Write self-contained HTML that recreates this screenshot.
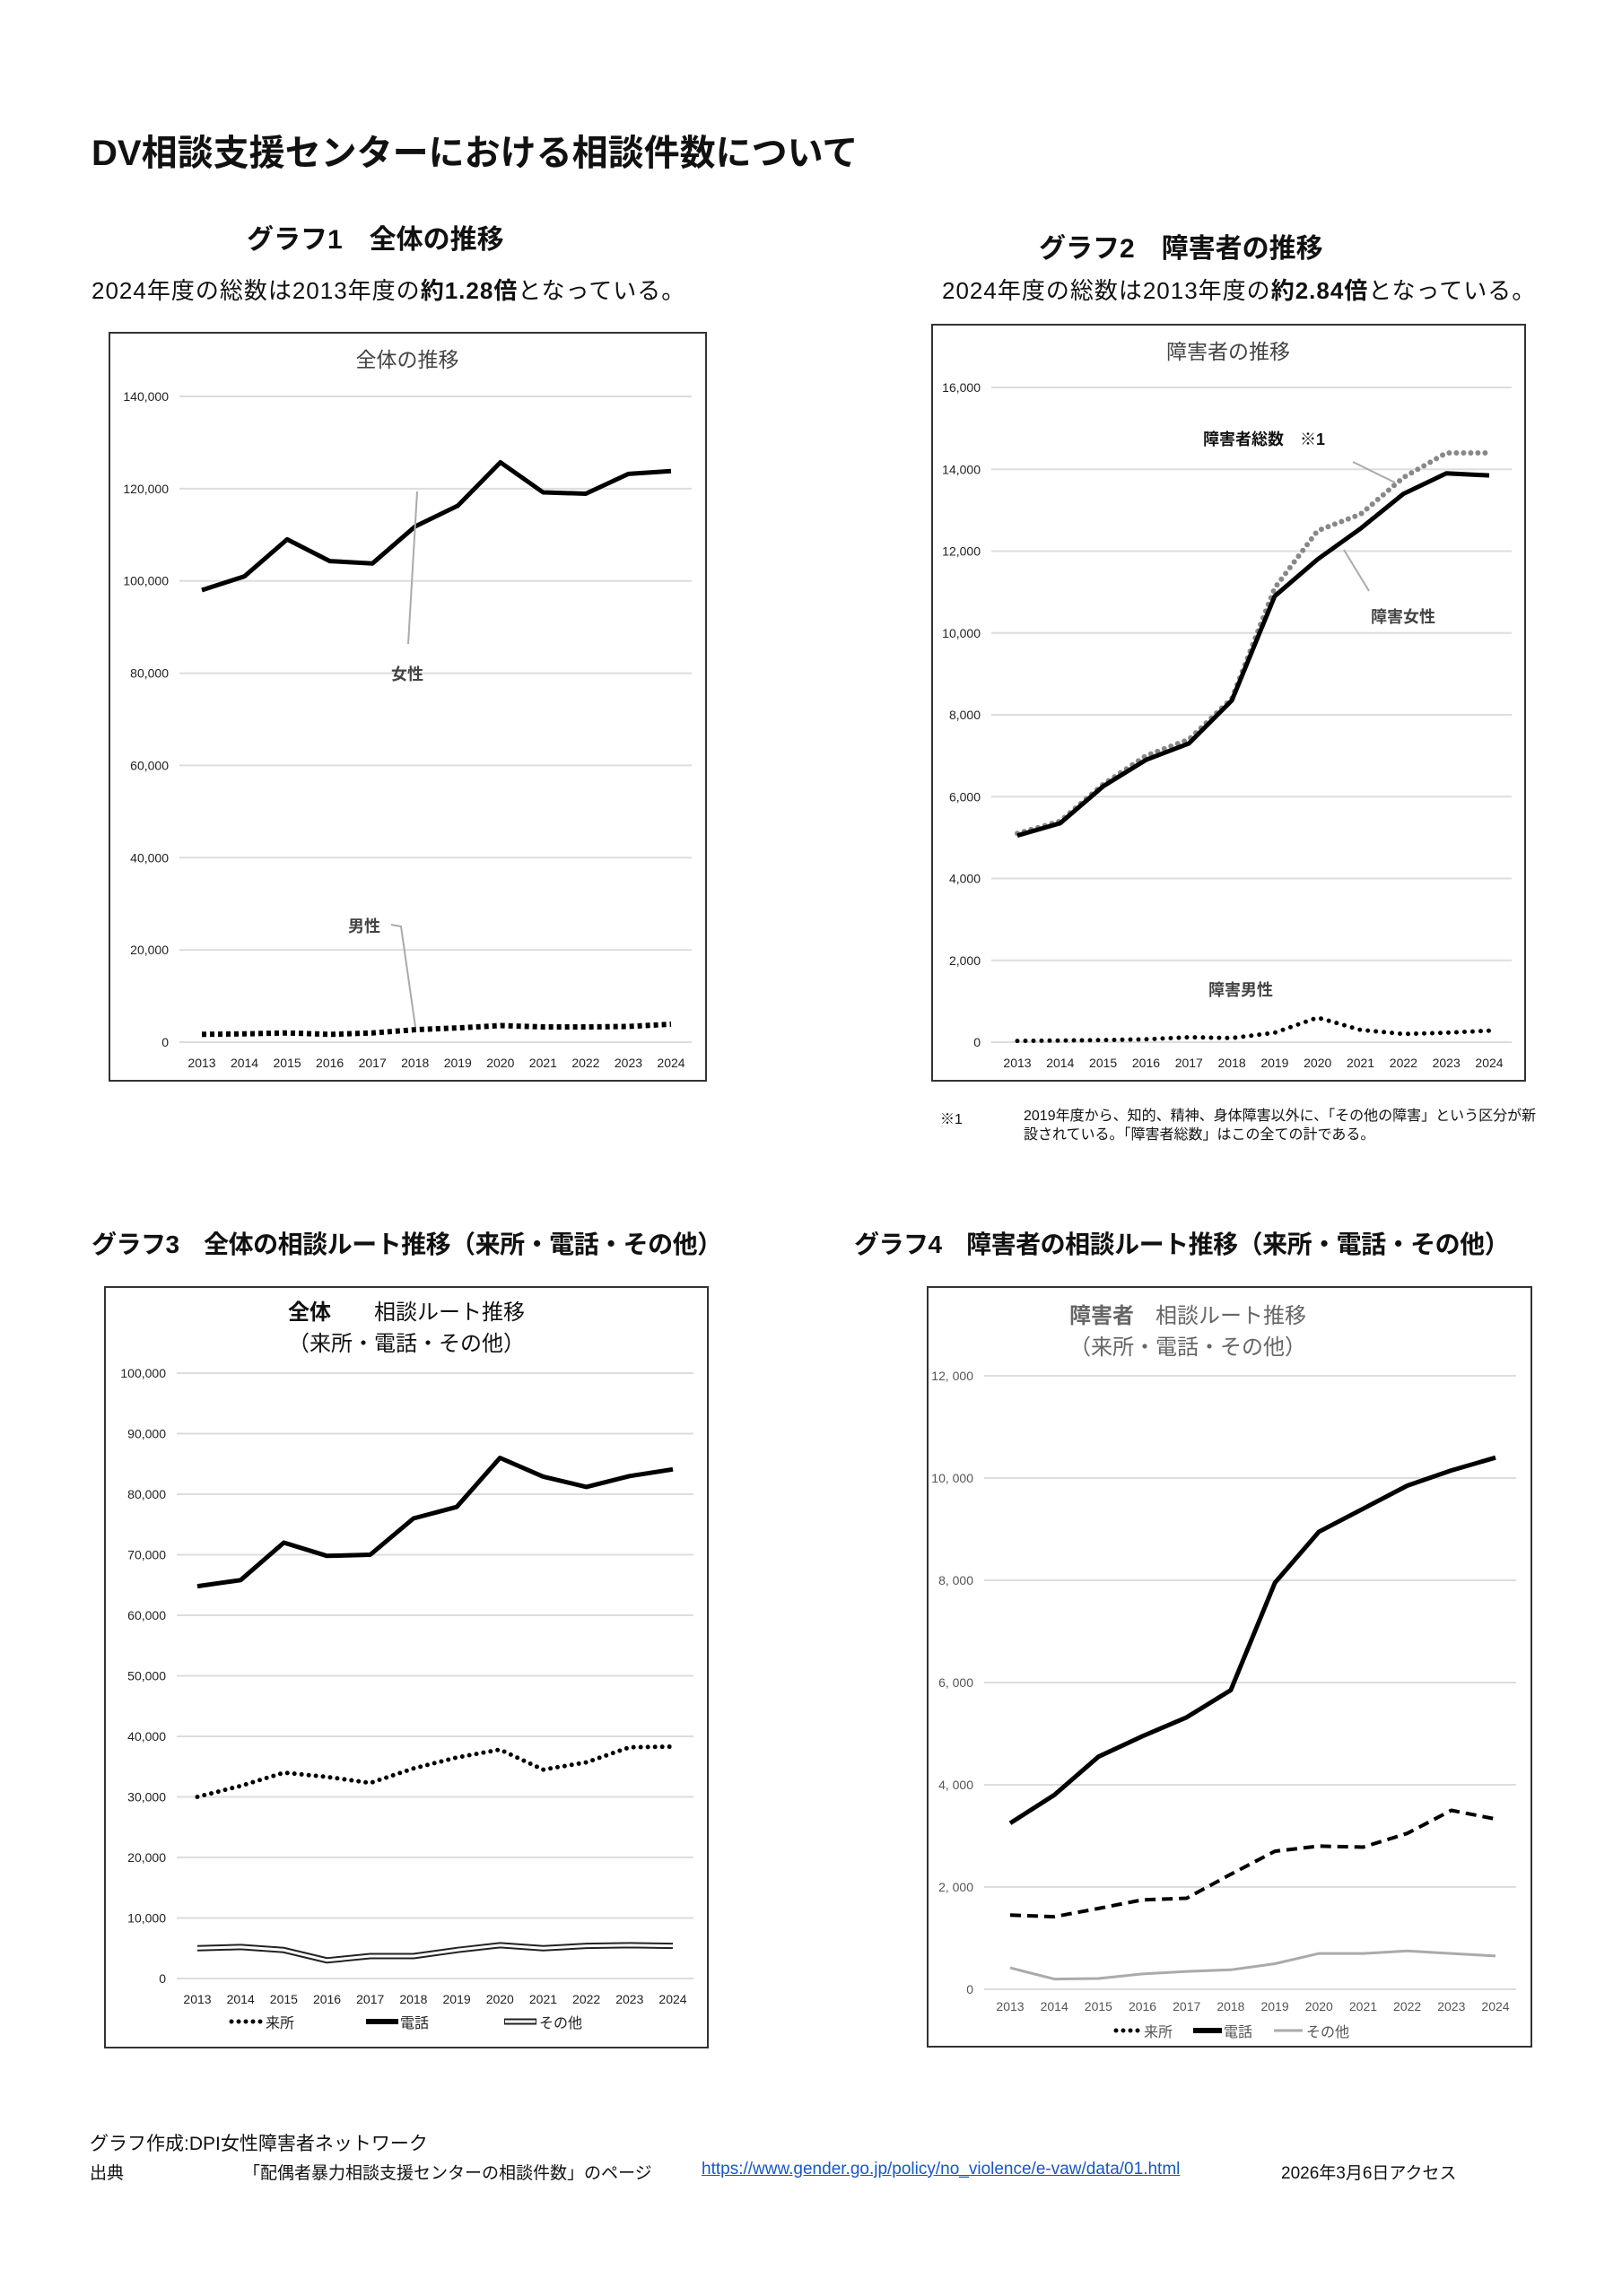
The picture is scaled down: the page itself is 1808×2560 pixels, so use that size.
<!DOCTYPE html>
<html><head><meta charset="utf-8">
<style>
html,body{margin:0;padding:0;background:#fff;}
body{width:1808px;height:2560px;position:relative;overflow:hidden;font-family:"Liberation Sans","Noto Sans CJK JP",sans-serif;}
.t{position:absolute;white-space:nowrap;color:#111;}
svg{position:absolute;left:0;top:0;}
svg text{font-family:"Liberation Sans","Noto Sans CJK JP",sans-serif;}
</style></head><body>
<div class="t" style="left:102px;top:138px;font-size:40px;font-weight:bold;">DV相談支援センターにおける相談件数について</div>
<div class="t" style="left:275px;top:242px;font-size:30px;font-weight:bold;">グラフ1　全体の推移</div>
<div class="t" style="left:102px;top:304px;font-size:26px;letter-spacing:1px;">2024年度の総数は2013年度の<b>約1.28倍</b>となっている。</div>
<div class="t" style="left:1158px;top:252px;font-size:30px;font-weight:bold;">グラフ2　障害者の推移</div>
<div class="t" style="left:1050px;top:304px;font-size:26px;letter-spacing:1px;">2024年度の総数は2013年度の<b>約2.84倍</b>となっている。</div>
<div class="t" style="left:1048px;top:1234px;font-size:16px;">※1</div>
<div class="t" style="left:1141px;top:1234px;font-size:16px;line-height:21px;">2019年度から、知的、精神、身体障害以外に、「その他の障害」という区分が新<br>設されている。「障害者総数」はこの全ての計である。</div>
<div class="t" style="left:102px;top:1366px;font-size:28px;font-weight:bold;letter-spacing:-0.5px;">グラフ3　全体の相談ルート推移（来所・電話・その他）</div>
<div class="t" style="left:952px;top:1366px;font-size:28px;font-weight:bold;letter-spacing:-0.5px;">グラフ4　障害者の相談ルート推移（来所・電話・その他）</div>
<div class="t" style="left:100px;top:2374px;font-size:21px;">グラフ作成:DPI女性障害者ネットワーク</div>
<div class="t" style="left:100px;top:2408px;font-size:19px;">出典</div>
<div class="t" style="left:271px;top:2408px;font-size:19px;">「配偶者暴力相談支援センターの相談件数」のページ</div>
<div class="t" style="left:782px;top:2408px;font-size:19px;color:#1a55c8;text-decoration:underline;">https://www.gender.go.jp/policy/no_violence/e-vaw/data/01.html</div>
<div class="t" style="left:1428px;top:2408px;font-size:19px;">2026年3月6日アクセス</div>
<svg id="s" width="1808" height="2560" xmlns="http://www.w3.org/2000/svg">
<rect x="122" y="371" width="665" height="834" fill="none" stroke="#333" stroke-width="2"/>
<rect x="1039" y="362" width="661" height="843" fill="none" stroke="#333" stroke-width="2"/>
<rect x="117" y="1435" width="672" height="848" fill="none" stroke="#333" stroke-width="2"/>
<rect x="1034" y="1435" width="673" height="847" fill="none" stroke="#333" stroke-width="2"/>
<text x="454" y="409" font-size="23" text-anchor="middle" fill="#444">全体の推移</text>
<text x="1369" y="400" font-size="23" text-anchor="middle" fill="#444">障害者の推移</text>
<text x="453" y="1471" font-size="24" text-anchor="middle" fill="#111"><tspan font-weight="bold">全体</tspan>　　相談ルート推移</text>
<text x="453" y="1506" font-size="24" text-anchor="middle" fill="#111">（来所・電話・その他）</text>
<text x="1324" y="1475" font-size="24" text-anchor="middle" fill="#666"><tspan font-weight="bold">障害者</tspan>　相談ルート推移</text>
<text x="1324" y="1510" font-size="24" text-anchor="middle" fill="#666">（来所・電話・その他）</text>
<g id="g"></g>
<line x1="465" y1="548" x2="455" y2="718" stroke="#aaa" stroke-width="2"/>
<text x="454" y="758" font-size="18" font-weight="bold" text-anchor="middle" fill="#444">女性</text>
<polyline points="436,1031 447,1033 463,1145" fill="none" stroke="#aaa" stroke-width="2"/>
<text x="406" y="1039" font-size="18" font-weight="bold" text-anchor="middle" fill="#444">男性</text>
<text x="1409" y="496" font-size="18" font-weight="bold" text-anchor="middle" fill="#111">障害者総数　※1</text>
<line x1="1508" y1="515" x2="1555" y2="538" stroke="#aaa" stroke-width="2"/>
<line x1="1498" y1="613" x2="1526" y2="659" stroke="#aaa" stroke-width="2"/>
<text x="1564" y="694" font-size="18" font-weight="bold" text-anchor="middle" fill="#444">障害女性</text>
<text x="1383" y="1110" font-size="18" font-weight="bold" text-anchor="middle" fill="#444">障害男性</text>
</svg>
<script>
var g=document.getElementById('g'),h='';
function ch(c){
 for(var v=0;v<=c.max;v+=c.step){var y=c.y0+(c.y1-c.y0)*v/c.max;
  h+='<line x1="'+c.gx0+'" x2="'+c.gx1+'" y1="'+y+'" y2="'+y+'" stroke="#ddd" stroke-width="2"/>';
  var s=v.toLocaleString('en-US'); if(c.sp) s=s.replace(',',', ');
  h+='<text x="'+(c.gx0-12)+'" y="'+(y+5)+'" font-size="'+c.fs+'" text-anchor="end" fill="'+c.tc+'">'+s+'</text>';}
 for(var i=0;i<12;i++){var x=c.xa+(c.xb-c.xa)*i/11;
  h+='<text x="'+x+'" y="'+c.ly+'" font-size="'+c.fs+'" text-anchor="middle" fill="'+c.tc+'">'+(2013+i)+'</text>';}
 c.series.forEach(function(s){var p=s.d.map(function(v,i){return (c.xa+(c.xb-c.xa)*i/11).toFixed(1)+','+(c.y0+(c.y1-c.y0)*v/c.max).toFixed(1)}).join(' ');
  if(s.outline) h+='<polyline points="'+p+'" fill="none" stroke="#222" stroke-width="7" stroke-linejoin="round"/>';
  h+='<polyline points="'+p+'" fill="none" stroke="'+s.c+'" stroke-width="'+s.w+'" stroke-linejoin="round" '+(s.da?'stroke-dasharray="'+s.da+'" ':'')+(s.cap?'stroke-linecap="'+s.cap+'"':'')+'/>';});
}
ch({gx0:200,gx1:771,y0:1162,y1:442,max:140000,step:20000,xa:225,xb:748,ly:1190,fs:14,tc:'#222',series:[
 {d:[98000,101000,109000,104300,103800,111800,116300,125700,119200,118900,123200,123800],c:'#000',w:5},
 {d:[1700,1800,2000,1700,2000,2700,3100,3600,3300,3300,3400,3900],c:'#000',w:6,da:'5 4'}]});
ch({gx0:1105,gx1:1685,y0:1162,y1:432,max:16000,step:2000,xa:1134,xb:1660,ly:1190,fs:14,tc:'#222',series:[
 {d:[5100,5400,6300,7000,7400,8400,11100,12500,12900,13800,14400,14400],c:'#888',w:6,da:'0 8',cap:'round'},
 {d:[5050,5350,6250,6900,7300,8350,10900,11800,12550,13400,13900,13850],c:'#000',w:5},
 {d:[30,40,50,70,120,100,230,600,300,200,230,280],c:'#000',w:5,da:'0 9',cap:'round'}]});
ch({gx0:197,gx1:773,y0:2206,y1:1531,max:100000,step:10000,xa:220,xb:750,ly:2234,fs:14,tc:'#222',series:[
 {d:[30000,31800,34000,33300,32300,34700,36500,37800,34500,35700,38200,38300],c:'#000',w:5,da:'0 8',cap:'round'},
 {d:[64800,65800,72000,69800,70000,76000,77900,86000,82900,81200,83000,84100],c:'#000',w:5},
 {d:[5000,5200,4700,3000,3700,3700,4700,5500,5000,5400,5500,5400],c:'#fff',w:3,outline:1}]});
ch({gx0:1097,gx1:1690,y0:2218,y1:1534,max:12000,step:2000,xa:1126,xb:1667,ly:2242,fs:14,tc:'#555',sp:1,series:[
 {d:[3250,3800,4550,4950,5320,5850,7950,8950,9400,9850,10150,10400],c:'#000',w:5},
 {d:[1450,1420,1580,1750,1780,2250,2700,2800,2780,3050,3500,3330],c:'#000',w:4,da:'12 7'},
 {d:[420,200,210,300,350,380,500,700,700,750,700,650],c:'#aaa',w:3}]});
h+='<line x1="258" y1="2254" x2="292" y2="2254" stroke="#000" stroke-width="5" stroke-dasharray="0 8" stroke-linecap="round"/><text x="296" y="2261" font-size="16" fill="#222">来所</text>';
h+='<line x1="408" y1="2254" x2="444" y2="2254" stroke="#000" stroke-width="6"/><text x="446" y="2261" font-size="16" fill="#222">電話</text>';
h+='<line x1="562" y1="2254" x2="598" y2="2254" stroke="#222" stroke-width="7"/><line x1="563" y1="2254" x2="597" y2="2254" stroke="#fff" stroke-width="3"/><text x="601" y="2261" font-size="16" fill="#222">その他</text>';
h+='<line x1="1244" y1="2264" x2="1272" y2="2264" stroke="#000" stroke-width="5" stroke-dasharray="0 8" stroke-linecap="round"/><text x="1275" y="2271" font-size="16" fill="#555">来所</text>';
h+='<line x1="1330" y1="2264" x2="1362" y2="2264" stroke="#000" stroke-width="6"/><text x="1364" y="2271" font-size="16" fill="#555">電話</text>';
h+='<line x1="1420" y1="2264" x2="1452" y2="2264" stroke="#aaa" stroke-width="3"/><text x="1456" y="2271" font-size="16" fill="#555">その他</text>';
g.innerHTML=h;
</script>
</body></html>
